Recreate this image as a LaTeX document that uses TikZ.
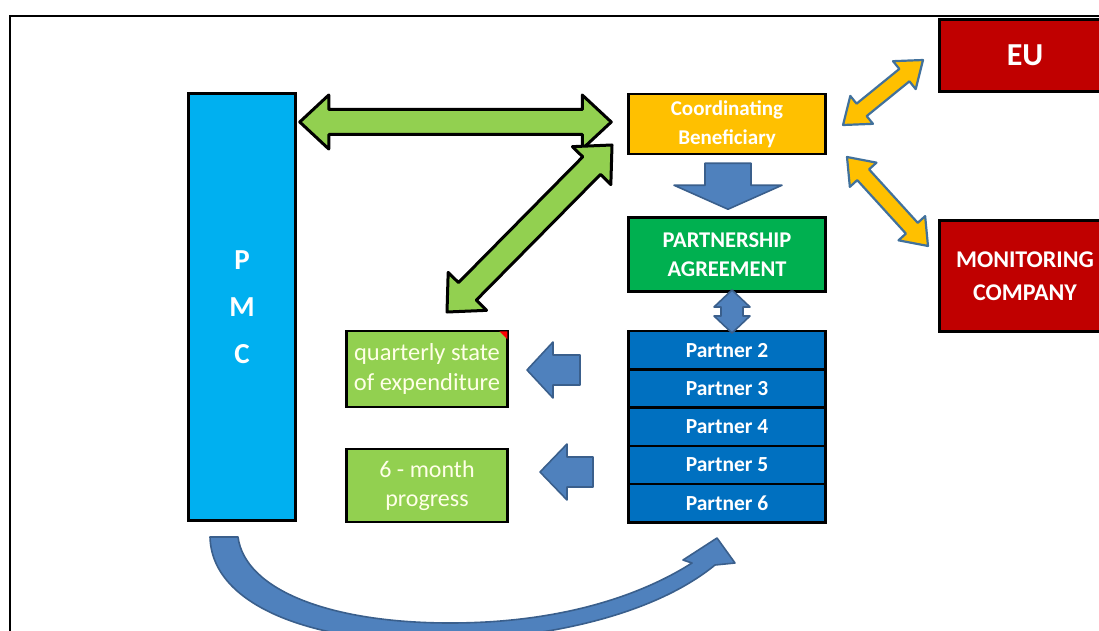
\documentclass[tikz,border=0pt]{standalone}
\usepackage{fontspec}
\setmainfont{Carlito}
\usetikzlibrary{calc}

\definecolor{pmcblue}{HTML}{00B0F0}
\definecolor{cbyellow}{HTML}{FFC000}
\definecolor{pagreen}{HTML}{00B050}
\definecolor{partblue}{HTML}{0070C0}
\definecolor{lightgreen}{HTML}{92D050}
\definecolor{darkred}{HTML}{C00000}
\definecolor{shapeblue}{HTML}{4F81BD}
\definecolor{shapeedge}{HTML}{3A5F8C}
\definecolor{yellowedge}{HTML}{41719C}
\definecolor{creamtext}{HTML}{FFFFE8}

% double-headed block arrow between two points:
% #1 style, #2 first end, #3 second end, #4 head length, #5 head half-width, #6 shaft half-width
\newcommand\dblblock[6]{%
  \draw[#1] let \p1=#2, \p2=#3,
      \n1={atan2(\y2-\y1,\x2-\x1)}, \n2={veclen(\x2-\x1,\y2-\y1)} in
    {[shift={(\p1)}, rotate=\n1]
     (0,0) -- (#4,#5) -- (#4,#6) -- (\n2-#4,#6) -- (\n2-#4,#5) -- (\n2,0)
     -- (\n2-#4,-#5) -- (\n2-#4,-#6) -- (#4,-#6) -- (#4,-#5) -- cycle};}
% single block arrow from tail #2 to tip #3
\newcommand\sglblock[6]{%
  \draw[#1] let \p1=#2, \p2=#3,
      \n1={atan2(\y2-\y1,\x2-\x1)}, \n2={veclen(\x2-\x1,\y2-\y1)} in
    {[shift={(\p1)}, rotate=\n1]
     (0,#6) -- (\n2-#4,#6) -- (\n2-#4,#5) -- (\n2,0) -- (\n2-#4,-#5)
     -- (\n2-#4,-#6) -- (0,-#6) -- cycle};}

\tikzset{
  box/.style={draw=black, line width=2.5pt, inner sep=0pt, align=center,
              text=white, minimum width=#1},
  box/.default=197pt,
  greenarrow/.style={fill=lightgreen, draw=black, line width=3pt, line join=round},
  yellowarrow/.style={fill=cbyellow, draw=yellowedge, line width=2.2pt, line join=round},
  bluearrow/.style={fill=shapeblue, draw=shapeedge, line width=1.6pt, line join=round},
  partrow/.style={box, fill=partblue, minimum height=38.3pt, outer sep=0pt,
                  font=\fontsize{21.5}{24}\selectfont\bfseries},
}

\begin{document}
\begin{tikzpicture}[x=1pt, y=-1pt]
\useasboundingbox (0,0) rectangle (1099,631);
\clip (0,0) rectangle (1099,631);

% frame
\draw[line width=2pt] (10,640) -- (10,16) -- (1110,16);

% boxes
\node[box=107pt, fill=pmcblue, minimum height=427pt,
      font=\fontsize{29}{47}\selectfont\bfseries] (pmc) at (242,307) {P\\M\\C};
\node[box, fill=cbyellow, minimum height=60pt,
      font=\fontsize{21}{29}\selectfont\bfseries] (cb) at (727,124) {Coordinating\\Beneficiary};
\node[box, fill=pagreen, minimum height=74pt,
      font=\fontsize{22.5}{29}\selectfont\bfseries] (pa) at (727,254.5) {PARTNERSHIP\\AGREEMENT};
\node[partrow, anchor=north] (p2) at (727,331) {Partner 2};
\node[partrow, anchor=north] (p3) at (p2.south) {Partner 3};
\node[partrow, anchor=north] (p4) at (p3.south) {Partner 4};
\node[partrow, anchor=north] (p5) at (p4.south) {Partner 5};
\node[partrow, anchor=north] (p6) at (p5.south) {Partner 6};
\node[box=161pt, fill=lightgreen, minimum height=76pt, text=creamtext, text depth=4pt,
      font=\fontsize{24.5}{30}\selectfont] (qse) at (427,369) {quarterly state\\of expenditure};
\node[box=161pt, fill=lightgreen, minimum height=73pt, text=creamtext,
      font=\fontsize{24}{29}\selectfont] (smp) at (427,485.5) {6 - month\\progress};
\node[box=171pt, fill=darkred, minimum height=72pt,
      font=\fontsize{32}{36}\selectfont\bfseries] (eu) at (1025,55.5) {EU};
\node[box=171pt, fill=darkred, minimum height=111pt,
      font=\fontsize{24}{33}\selectfont\bfseries] (mc) at (1025,276) {MONITORING\\COMPANY};

% comment marker in the corner of the expenditure box
\fill[red] ($(qse.north east)+(-1.5,1.5)$) -- ++(-8,0) -- ++(8,8) -- cycle;

% arrow end points
\coordinate (hA) at ($(pmc.east |- 0,122)+(3,0)$);
\coordinate (hB) at ($(cb.west |- 0,122)+(-16,0)$);
\coordinate (dA) at (447,312);
\coordinate (dB) at (612,145);
\coordinate (euA) at (843,125);
\coordinate (euB) at (923,60);
\coordinate (mcA) at (847,157);
\coordinate (mcB) at (928,246);
\coordinate (downA) at ($(cb.south)+(1,8)$);
\coordinate (downB) at ($(pa.north)+(1,-7)$);
\coordinate (vA) at (732,290);
\coordinate (vB) at (732,333);
\coordinate (q1A) at (580,370);
\coordinate (q1B) at (527,370);
\coordinate (q2A) at (593,472);
\coordinate (q2B) at (540,472);

% green double arrows between PMC, coordinating beneficiary and reports
\dblblock{greenarrow}{(hA)}{(hB)}{29}{27}{12.5}
\dblblock{greenarrow}{(dA)}{(dB)}{29}{27}{12.5}

% yellow double arrows to EU and monitoring company
\dblblock{yellowarrow}{(euA)}{(euB)}{24}{18}{8}
\dblblock{yellowarrow}{(mcA)}{(mcB)}{24}{18}{8}

% blue block arrows
\sglblock{bluearrow}{(downA)}{(downB)}{24}{54}{23}
\dblblock{bluearrow}{(vA)}{(vB)}{17}{18}{11}
\sglblock{bluearrow}{(q1A)}{(q1B)}{26}{28}{15}
\sglblock{bluearrow}{(q2A)}{(q2B)}{27}{28}{15}

% curved arrow from PMC round to the partners
\coordinate (cTip) at (717,538);
\filldraw[bluearrow]
  (210,537) .. controls (212,612) and (330,646) .. (450,641)
  .. controls (575,636) and (665,606) .. (715,565)
  -- (735,563) -- (cTip) -- (683,560) -- (692,563)
  .. controls (640,596) and (560,623) .. (450,623)
  .. controls (330,623) and (245,590) .. (238,537) -- cycle;
\end{tikzpicture}
\end{document}
